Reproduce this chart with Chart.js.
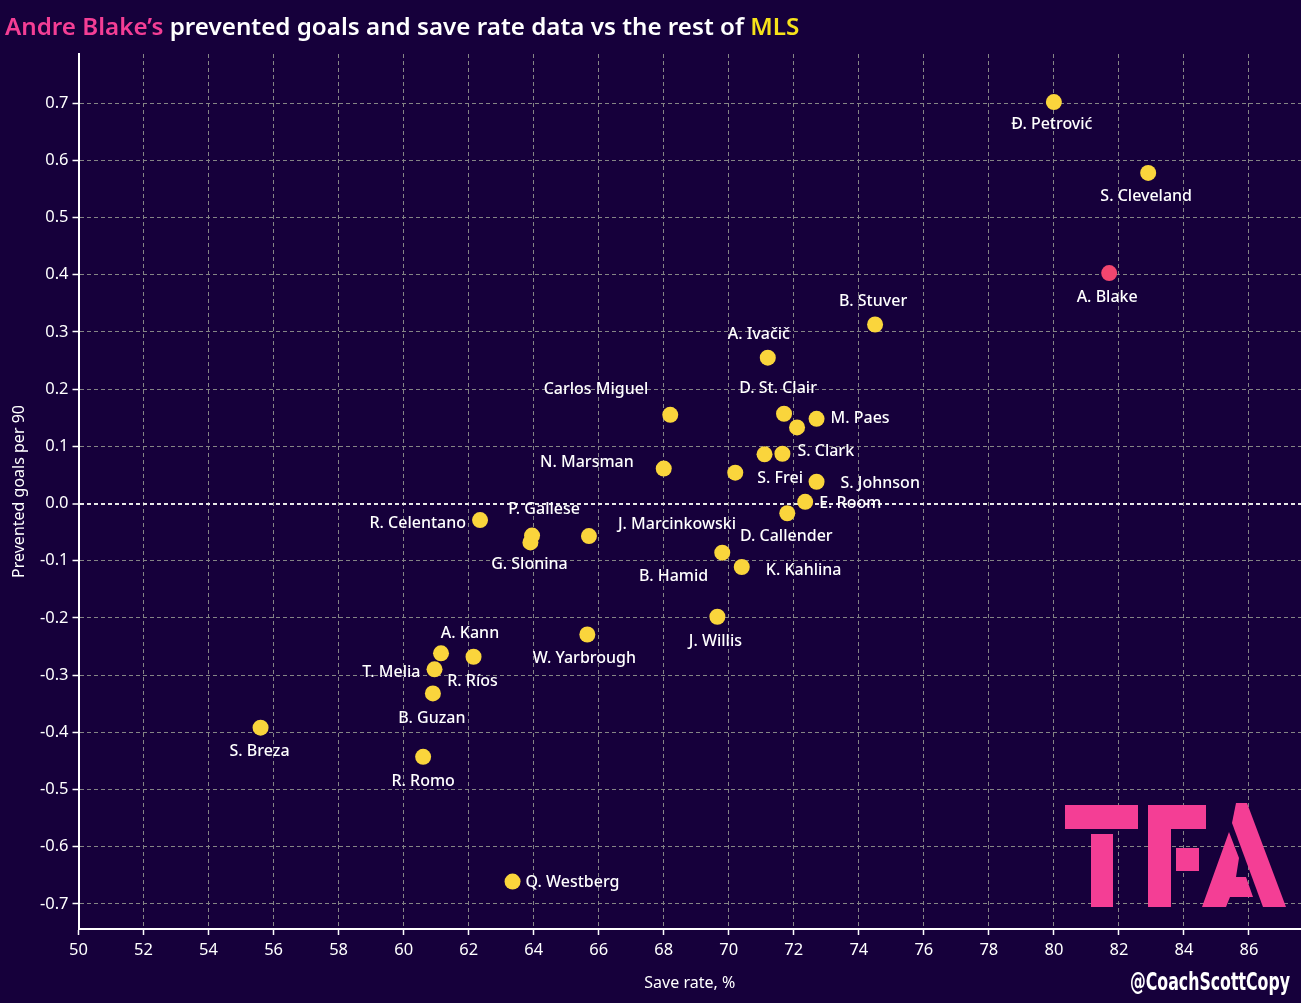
<!DOCTYPE html>
<html>
<head>
<meta charset="utf-8">
<title>Andre Blake – prevented goals vs save rate</title>
<script src="https://cdn.jsdelivr.net/npm/chart.js@4/dist/chart.umd.min.js"></script>
<style>
  html, body { margin: 0; padding: 0; background: #16003b; }
  canvas { display: block; }
</style>
</head>
<body>
<canvas id="chart" width="1301" height="1003"></canvas>
<script>
// data
const players = [
    'Đ. Petrović', 'S. Cleveland', 'A. Blake', 'B. Stuver', 'A. Ivačič',
    'D. St. Clair', '', 'M. Paes', '', 'S. Clark',
    'Carlos Miguel', 'N. Marsman', 'S. Frei', 'S. Johnson', 'E. Room',
    'D. Callender', 'R. Celentano', 'P. Gallese', 'G. Slonina', 'J. Marcinkowski',
    'B. Hamid', 'K. Kahlina', 'J. Willis', 'W. Yarbrough', 'A. Kann',
    'R. Ríos', 'T. Melia', 'B. Guzan', 'R. Romo', 'S. Breza',
    'Q. Westberg'
];
const saveRate = [
    80.0, 82.9, 81.7, 74.5, 71.2,
    71.7, 72.1, 72.7, 71.1, 71.65,
    68.2, 68.0, 70.2, 72.7, 72.35,
    71.8, 62.35, 63.95, 63.9, 65.7,
    69.8, 70.4, 69.65, 65.65, 61.15,
    62.15, 60.95, 60.9, 60.6, 55.6,
    63.35
];
const preventedPer90 = [
    0.702, 0.578, 0.403, 0.313, 0.255,
    0.157, 0.133, 0.148, 0.086, 0.087,
    0.155, 0.061, 0.054, 0.038, 0.003,
    -0.017, -0.029, -0.056, -0.068, -0.057,
    -0.086, -0.111, -0.198, -0.229, -0.262,
    -0.268, -0.290, -0.332, -0.443, -0.392,
    -0.661
];
const highlight = 'A. Blake';

// where each name sits relative to its dot: [dx, dy, anchor]
const labelPos = [
    [-2, 22, 'c'], [-2, 23, 'c'], [-2, 24, 'c'], [-2, -23, 'c'], [-9, -23, 'c'],
    [-6, -25, 'c'], null, [14, 0, 'l'], null, [15, -2, 'l'],
    [-22, -25, 'r'], [-30, -6, 'r'], [22, 6, 'l'], [24, 2, 'l'], [14, 2, 'l'],
    [-1, 23, 'c'], [-14, 3, 'r'], [12, -26, 'c'], [-1, 22, 'c'], [29, -12, 'l'],
    [-14, 24, 'r'], [24, 3, 'l'], [-2, 25, 'c'], [-3, 24, 'c'], [29, -20, 'c'],
    [-1, 25, 'c'], [-14, 3, 'r'], [-1, 25, 'c'], [0, 25, 'c'], [-1, 24, 'c'],
    [13, 1, 'l']
];

const BG = '#16003b';
const YELLOW = '#fad53c';
const RED = '#f2466f';
const PINK = '#f43e95';
const TITLE_YELLOW = '#f7e21a';
const FONT = '"Noto Sans", "Open Sans", sans-serif';

Chart.defaults.font.family = FONT;
Chart.defaults.color = '#ffffff';

const points = saveRate.map((x, i) => ({ x: x, y: preventedPer90[i] }));

// page background + title
const backgroundPlugin = {
    id: 'background',
    beforeDraw(chart) {
        const ctx = chart.ctx;
        ctx.save();
        ctx.fillStyle = BG;
        ctx.fillRect(0, 0, chart.width, chart.height);

        const parts = [
            ['Andre Blake’s', PINK],
            [' prevented goals and save rate data vs the rest of ', '#ffffff'],
            ['MLS', TITLE_YELLOW]
        ];
        ctx.font = '600 24.2px ' + FONT;
        ctx.textBaseline = 'alphabetic';
        ctx.textAlign = 'left';
        let x = 5;
        parts.forEach(p => {
            ctx.fillStyle = p[1];
            ctx.fillText(p[0], x, 35);
            x += ctx.measureText(p[0]).width;
        });
        ctx.restore();
    }
};

// names next to the dots
const labelPlugin = {
    id: 'pointLabels',
    afterDatasetsDraw(chart) {
        const ctx = chart.ctx;
        const meta = chart.getDatasetMeta(0);
        ctx.save();
        ctx.font = '500 16px ' + FONT;
        ctx.fillStyle = '#ffffff';
        ctx.textBaseline = 'middle';
        meta.data.forEach((el, i) => {
            const pos = labelPos[i];
            if (!pos || !players[i]) return;
            ctx.textAlign = pos[2] === 'l' ? 'left' : (pos[2] === 'r' ? 'right' : 'center');
            ctx.fillText(players[i], el.x + pos[0], el.y + pos[1]);
        });
        ctx.restore();
    }
};

// TFA logo and credit
const brandPlugin = {
    id: 'brand',
    afterDraw(chart) {
        const ctx = chart.ctx;
        ctx.save();
        ctx.fillStyle = PINK;
        // T
        ctx.fillRect(1065, 805, 73, 24);
        ctx.fillRect(1091, 834, 22, 73);
        // F
        ctx.fillRect(1148, 805, 23, 102);
        ctx.fillRect(1148, 805, 58, 24);
        ctx.fillRect(1176, 848, 23, 23);
        // A right stroke
        ctx.beginPath();
        ctx.moveTo(1236, 803);
        ctx.lineTo(1247, 803);
        ctx.lineTo(1286, 907);
        ctx.lineTo(1263, 907);
        ctx.lineTo(1232, 823);
        ctx.closePath();
        ctx.fill();
        // A left leg + bar
        ctx.beginPath();
        ctx.moveTo(1229, 832);
        ctx.lineTo(1239, 858);
        ctx.lineTo(1236, 877);
        ctx.lineTo(1246, 877);
        ctx.lineTo(1253, 897);
        ctx.lineTo(1230, 897);
        ctx.lineTo(1226, 907);
        ctx.lineTo(1202, 907);
        ctx.closePath();
        ctx.fill();

        // credit, squeezed to the narrow look of the original
        const credit = '@CoachScottCopy';
        ctx.fillStyle = '#ffffff';
        ctx.font = 'bold 25px "DejaVu Sans Condensed", "Liberation Sans Narrow", sans-serif';
        ctx.textAlign = 'left';
        ctx.textBaseline = 'alphabetic';
        const w = ctx.measureText(credit).width;
        const sx = 160 / w;
        ctx.translate(1130, 990);
        ctx.scale(sx, 1);
        ctx.fillText(credit, 0, 0);
        ctx.restore();
    }
};

function isZero(v) {
    return Math.abs(v) < 1e-9;
}

new Chart(document.getElementById('chart'), {
    type: 'scatter',
    data: {
        datasets: [{
            label: 'Goalkeepers',
            data: points,
            backgroundColor: players.map(p => p === highlight ? RED : YELLOW),
            borderWidth: 0,
            pointRadius: 8,
            pointHoverRadius: 8
        }]
    },
    options: {
        responsive: false,
        animation: false,
        layout: {
            autoPadding: false,
            padding: { top: 54, left: 0, right: 0, bottom: 0 }
        },
        plugins: {
            legend: { display: false },
            tooltip: { enabled: false },
            title: { display: false }
        },
        scales: {
            x: {
                type: 'linear',
                min: 50,
                max: 87.6,
                afterFit: s => {
                    s.height = 74;
                    s.paddingLeft = 0;
                    s.paddingRight = 0;
                },
                ticks: {
                    stepSize: 2,
                    includeBounds: false,
                    color: '#ffffff',
                    font: { size: 16.5 },
                    padding: 5,
                    maxRotation: 0
                },
                grid: {
                    color: '#858585',
                    lineWidth: 1,
                    tickColor: '#ffffff',
                    tickLength: 6,
                    tickWidth: 1.5
                },
                border: {
                    display: true,
                    color: '#ffffff',
                    width: 2,
                    dash: [4, 3]
                },
                title: {
                    display: true,
                    text: 'Save rate, %',
                    color: '#ffffff',
                    font: { size: 16 },
                    padding: { top: 0, bottom: 10 }
                }
            },
            y: {
                type: 'linear',
                min: -0.744,
                max: 0.786,
                afterFit: s => { s.width = 78.5; },
                ticks: {
                    stepSize: 0.1,
                    includeBounds: false,
                    color: '#ffffff',
                    font: { size: 16.5 },
                    padding: 4,
                    callback: v => isZero(v) ? '0.0' : Number(v).toFixed(1)
                },
                grid: {
                    color: ctx => ctx.tick && isZero(ctx.tick.value) ? '#e8e8e8' : '#858585',
                    lineWidth: ctx => ctx.tick && isZero(ctx.tick.value) ? 2 : 1,
                    tickColor: '#ffffff',
                    tickLength: 6,
                    tickWidth: 1.5
                },
                border: {
                    display: true,
                    color: '#ffffff',
                    width: 2,
                    dash: [4, 3]
                },
                title: {
                    display: true,
                    text: 'Prevented goals per 90',
                    color: '#ffffff',
                    font: { size: 16 },
                    padding: { top: 10, bottom: 0 }
                }
            }
        }
    },
    plugins: [backgroundPlugin, labelPlugin, brandPlugin]
});
</script>
</body>
</html>
